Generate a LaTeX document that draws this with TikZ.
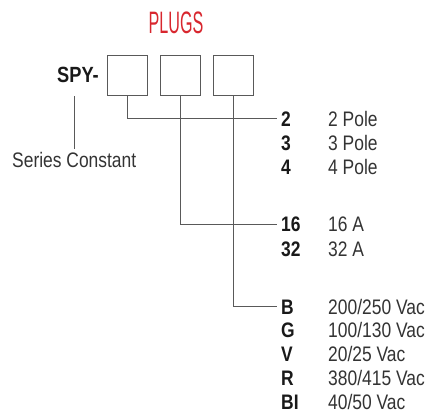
\documentclass[tikz,border=0pt]{standalone}
\usepackage{fontspec}
\newfontfamily\condfont{Liberation Sans}[FakeStretch=0.83]
\newfontfamily\titlefont{Liberation Sans}[FakeStretch=0.52]
\definecolor{plugred}{HTML}{D8262E}
\usetikzlibrary{positioning}

\begin{document}
\begin{tikzpicture}[x=1pt,y=-1pt,
  font=\condfont\fontsize{21}{25}\selectfont,
  slot/.style={draw=black!65,line width=1pt,minimum size=40pt,inner sep=0pt},
  link/.style={draw=black!65,line width=.9pt},
  code/.style={font=\condfont\bfseries\fontsize{21}{25}\selectfont,text=black!90,
               anchor=base west,inner xsep=4pt,inner ysep=0pt},
  desc/.style={text=black!80,anchor=base west,inner sep=0pt}]
\useasboundingbox (0,0) rectangle (430,412);

% Title and ordering code slots
\node[font=\titlefont\fontsize{31}{34}\selectfont,text=plugred,anchor=base,inner sep=0pt]
  (title) at (176,34) {PLUGS};
\node[font=\condfont\bfseries\fontsize{22}{26}\selectfont,text=black!90,anchor=base west,inner sep=0pt]
  (spy) at (57,82) {SPY-};
\foreach \i/\xc in {1/127,2/180,3/233}{
  \node[slot] (b\i) at (\xc,75) {};
}
\node[desc,inner sep=3pt] (series) at (9,167) {Series Constant};
\draw[link] (series.north) -- (series.north |- b1.south);

% Option codes and their meanings
\foreach \y/\c/\d in {126/2/{2 Pole},150/3/{3 Pole},174/4/{4 Pole},
                      231.5/16/{16 A},256/32/{32 A},
                      314/B/{200/250 Vac},337.5/G/{100/130 Vac},361.5/V/{20/25 Vac},
                      385.5/R/{380/415 Vac},409/BI/{40/50 Vac}}{
  \node[code] (c\c) at (277,\y) {\c};
  \node[desc] (d\c) at (328,\y) {\d};
}
\draw[link] (b1.south) |- (c2.west);
\draw[link] (b2.south) |- (c16.west);
\draw[link] (b3.south) |- (cB.west);
\end{tikzpicture}
\end{document}
